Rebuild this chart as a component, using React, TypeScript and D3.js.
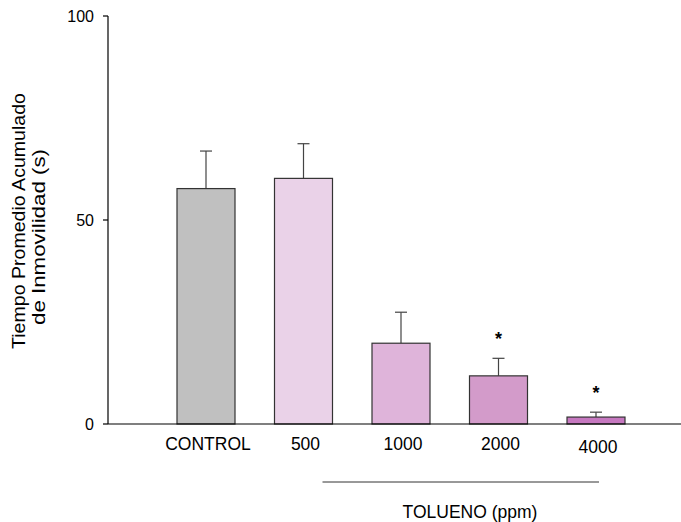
import React from 'react';
import * as d3 from 'd3';

const GROUPS = ["CONTROL", "500", "1000", "2000", "4000"];
const MEANS = [57.7, 60.2, 19.8, 11.8, 1.7];
const ERRORS = [9.2, 8.5, 7.6, 4.3, 1.2];
const SIGNIFICANT = [false, false, false, true, true];
const COLORS = ["#c0c0c0", "#ead2e8", "#dfb4da", "#d39bca", "#c678c0"];
const Y_TICKS = [0, 50, 100];

const WIDTH = 681;
const HEIGHT = 522;
const FONT = "Arial, 'Liberation Sans', Helvetica, sans-serif";

export default function App() {
    const yScale = d3.scaleLinear().domain([0, 100]).range([424, 16]);
    const xScale = d3.scalePoint<string>().domain(GROUPS).range([206, 596]);
    const barW = 58;
    const capW = 12;
    const axisX = 108;

    return (
        <div style={{ position: "absolute", left: 0, top: 0 }}>
            <svg width={WIDTH} height={HEIGHT} style={{ display: "block", background: "#fff" }} fontFamily={FONT}>
                {/* bars with upward error bars */}
                {GROUPS.map((g, i) => {
                    const cx = xScale(g)!;
                    const top = yScale(MEANS[i]);
                    const errTop = yScale(MEANS[i] + ERRORS[i]);
                    return (
                        <g key={g}>
                            <line x1={cx} x2={cx} y1={top} y2={errTop} stroke="#444" strokeWidth={1.2} />
                            <line x1={cx - capW / 2} x2={cx + capW / 2} y1={errTop} y2={errTop} stroke="#444" strokeWidth={1.2} />
                            <rect x={cx - barW / 2} y={top} width={barW} height={yScale(0) - top}
                                fill={COLORS[i]} stroke="#333" strokeWidth={1.2} />
                            {SIGNIFICANT[i] && (
                                <text x={cx} y={errTop - 13} textAnchor="middle" fontSize={18} fontWeight="bold">*</text>
                            )}
                        </g>
                    );
                })}

                {/* axes */}
                <line x1={axisX} x2={axisX} y1={yScale(100)} y2={yScale(0)} stroke="#000" strokeWidth={1.2} />
                <line x1={axisX} x2={WIDTH} y1={yScale(0)} y2={yScale(0)} stroke="#000" strokeWidth={1.2} />
                {Y_TICKS.map(t => (
                    <g key={t}>
                        <line x1={axisX - 5} x2={axisX} y1={yScale(t)} y2={yScale(t)} stroke="#000" strokeWidth={1.2} />
                        <text x={axisX - 14} y={yScale(t) + 6} textAnchor="end" fontSize={16}>{t}</text>
                    </g>
                ))}

                {/* x labels */}
                {GROUPS.map((g, i) => (
                    <text key={g} x={xScale(g)! + 2} y={i === 4 ? 452.5 : 449.5} textAnchor="middle" fontSize={17.5}>{g}</text>
                ))}

                {/* y label */}
                <text transform="translate(25,221) rotate(-90)" textAnchor="middle" fontSize={17.5}
                    textLength={256} lengthAdjust="spacingAndGlyphs">Tiempo Promedio Acumulado</text>
                <text transform="translate(44.5,237) rotate(-90)" textAnchor="middle" fontSize={17.5}
                    textLength={176} lengthAdjust="spacingAndGlyphs">de Inmovilidad (s)</text>

                {/* toluene bracket */}
                <line x1={xScale("500")! + barW / 2 - 10} x2={xScale("4000")! + 3} y1={482} y2={482} stroke="#333" strokeWidth={1} />
                <text x={470} y={517.5} textAnchor="middle" fontSize={17.5}>TOLUENO (ppm)</text>
            </svg>
        </div>
    );
}
